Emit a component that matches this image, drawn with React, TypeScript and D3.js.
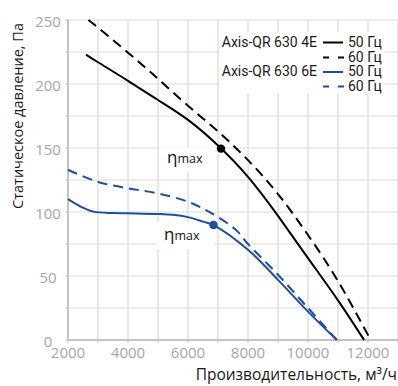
import React from "react";
import * as d3 from "d3";

const W = 398;
const H = 386;

const xTicks = [2000, 4000, 6000, 8000, 10000, 12000];
const yTicks = [0, 50, 100, 150, 200, 250];

// Axis-QR 630 4E, 50 Hz
const black50X = [2600, 3000, 4000, 5000, 6000, 7000, 8000, 9000, 10000, 11000, 11870];
const black50Y = [223, 217, 202.5, 187.5, 172, 152, 127.5, 97, 64, 31, 0];
// Axis-QR 630 4E, 60 Hz
const black60X = [2680, 3000, 4000, 5000, 6000, 7000, 8000, 9000, 10000, 11000, 12090];
const black60Y = [250, 244, 224.5, 204, 183, 163, 140.5, 114, 82, 46, 0];
// Axis-QR 630 6E, 50 Hz
const blue50X = [2000, 2400, 2850, 3500, 4000, 5000, 5500, 6000, 6500, 6850, 8000, 9000, 10000, 10960];
const blue50Y = [110, 104.5, 100.3, 99.2, 99, 98.5, 97.8, 96, 92.5, 89.8, 70.5, 47, 22.2, 0];
// Axis-QR 630 6E, 60 Hz
const blue60X = [2000, 3000, 4000, 5000, 6000, 6750, 7600, 8000, 9000, 10000, 10960];
const blue60Y = [133, 123.5, 118.5, 114.5, 108, 99.5, 86, 75, 51, 25, 0];

const etaBlack = [7100, 149.5];
const etaBlue = [6850, 89.8];

const legendModels = ["Axis-QR 630 4E", "Axis-QR 630 6E"];
const legendFreqs = ["50 Гц", "60 Гц"];

const BLUE = "#1d4f9e";

export default function App() {
  const x = d3.scaleLinear().domain([2000, 13000]).range([68, 398]);
  const y = d3.scaleLinear().domain([0, 250]).range([340, 20]);
  const line = (xs: number[], ys: number[], curve: d3.CurveFactory) =>
    d3
      .line<number>()
      .x((_, i) => x(xs[i]))
      .y((_, i) => y(ys[i]))
      .curve(curve)(xs) as string;

  const vGrid = d3.range(2000, 13001, 1000);
  const hGrid = d3.range(0, 251, 25);
  const tickFont = "'Open Sans', sans-serif";
  const cr = d3.curveCatmullRom.alpha(0.5);

  return (
    <svg
      width={W}
      height={H}
      style={{ position: "absolute", left: 0, top: 0, background: "#fff" }}
    >
      <rect x={0} y={0} width={W} height={H} fill="#fff" />
      {/* grid */}
      {vGrid.map((v) => (
        <line key={"v" + v} x1={x(v)} x2={x(v)} y1={y(0)} y2={y(250)} stroke="#d9d9d9" strokeWidth={1.2} />
      ))}
      {hGrid.map((v) => (
        <line key={"h" + v} x1={x(2000)} x2={x(13000)} y1={y(v)} y2={y(v)} stroke="#d9d9d9" strokeWidth={1.2} />
      ))}
      {/* ticks */}
      {vGrid.map((v) => (
        <line key={"tx" + v} x1={x(v)} x2={x(v)} y1={y(0)} y2={y(0) + 3} stroke="#c8c8c8" strokeWidth={1.2} />
      ))}
      {hGrid.map((v) => (
        <line key={"ty" + v} x1={x(2000) - 3} x2={x(2000)} y1={y(v)} y2={y(v)} stroke="#c8c8c8" strokeWidth={1.2} />
      ))}
      {/* axes */}
      <line x1={x(2000)} x2={x(2000)} y1={y(0)} y2={y(250)} stroke="#c4c4c4" strokeWidth={2} />
      <line x1={x(2000)} x2={x(13000)} y1={y(0)} y2={y(0)} stroke="#c4c4c4" strokeWidth={2} />

      {/* white boxes behind labels */}
      <rect x={219} y={32} width={165} height={61} fill="#fff" />
      <rect x={159} y={147.5} width={57} height={24.5} fill="#fff" />
      <rect x={156} y={222} width={58} height={27} fill="#fff" />

      {/* curves */}
      <path d={line(blue60X, blue60Y, cr)} fill="none" stroke={BLUE} strokeWidth={2} strokeDasharray="10,6" />
      <path d={line(blue50X, blue50Y, cr)} fill="none" stroke={BLUE} strokeWidth={2} />
      <path d={line(black60X, black60Y, d3.curveNatural)} fill="none" stroke="#000" strokeWidth={2} strokeDasharray="10,6" />
      <path d={line(black50X, black50Y, d3.curveNatural)} fill="none" stroke="#000" strokeWidth={2} />

      <circle cx={x(etaBlack[0])} cy={y(etaBlack[1])} r={4.2} fill="#000" />
      <circle cx={x(etaBlue[0])} cy={y(etaBlue[1])} r={4.2} fill={BLUE} />

      {/* eta labels */}
      <text x={167} y={163} fontFamily={tickFont} fill="#111">
        <tspan fontSize={17}>η</tspan>
        <tspan fontSize={12.5}>max</tspan>
      </text>
      <text x={164} y={240} fontFamily={tickFont} fill="#111">
        <tspan fontSize={17}>η</tspan>
        <tspan fontSize={12.5}>max</tspan>
      </text>

      {/* tick labels */}
      {xTicks.map((v) => (
        <text key={"xl" + v} x={x(v)} y={358} textAnchor="middle" fontFamily={tickFont} fontSize={15} fill="#a6a6a6">
          {v}
        </text>
      ))}
      {yTicks.map((v) => (
        <text key={"yl" + v} x={48} y={y(v) + 7} textAnchor="middle" fontFamily={tickFont} fontSize={15} fill="#a6a6a6">
          {v}
        </text>
      ))}

      {/* axis titles */}
      <text x={397} y={380} textAnchor="end" fontFamily={tickFont} fontSize={15.5} fill="#1a1a1a">
        Производительность, м³/ч
      </text>
      <text
        transform={`translate(23,${116}) rotate(-90)`}
        textAnchor="middle"
        fontFamily={tickFont}
        fontSize={14.5}
        fill="#1a1a1a"
      >
        Статическое давление, Па
      </text>

      {/* legend */}
      <g fontFamily="Roboto, sans-serif" fontSize={14} fill="#1a1a1a">
        <text x={317} y={46.7} textAnchor="end">{legendModels[0]}</text>
        <line x1={323} x2={343} y1={42.5} y2={42.5} stroke="#000" strokeWidth={2} />
        <text x={348} y={46.7}>{legendFreqs[0]}</text>
        <line x1={323} x2={344} y1={57.5} y2={57.5} stroke="#000" strokeWidth={2} strokeDasharray="6,9" />
        <text x={348} y={61.7}>{legendFreqs[1]}</text>
        <text x={317} y={76} textAnchor="end">{legendModels[1]}</text>
        <line x1={323} x2={343} y1={72} y2={72} stroke={BLUE} strokeWidth={2} />
        <text x={348} y={76}>{legendFreqs[0]}</text>
        <line x1={323} x2={344} y1={86.5} y2={86.5} stroke={BLUE} strokeWidth={2} strokeDasharray="6,9" />
        <text x={348} y={90.7}>{legendFreqs[1]}</text>
      </g>
    </svg>
  );
}
